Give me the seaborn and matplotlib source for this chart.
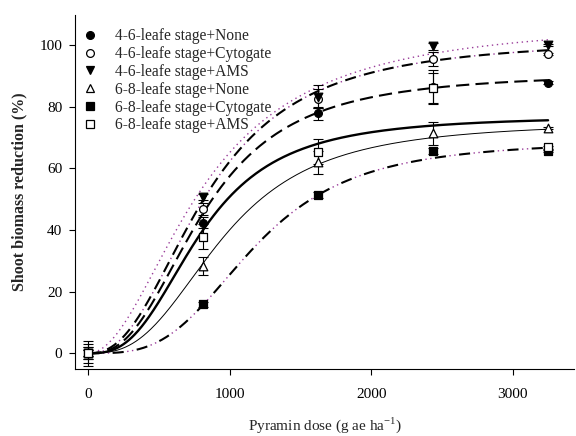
import numpy as np
import pandas as pd
import matplotlib
matplotlib.use("Agg")
import matplotlib.pyplot as plt
from matplotlib.lines import Line2D
import seaborn as sns

# ---------------- data ----------------
dose = [0, 812.5, 1625, 2437.5, 3250]
series_labels = [
    "4-6-leafe stage+None",
    "4-6-leafe stage+Cytogate",
    "4-6-leafe stage+AMS",
    "6-8-leafe stage+None",
    "6-8-leafe stage+Cytogate",
    "6-8-leafe stage+AMS",
]
y_46_none = [0, 42.4, 77.8, 86.3, 87.8]
y_46_cyto = [0, 46.8, 82.6, 95.4, 97.0]
y_46_ams = [0, 50.8, 83.2, 99.5, 100.0]
y_68_none = [0, 28.3, 61.9, 71.4, 73.0]
y_68_cyto = [0, 15.9, 51.3, 65.7, 65.6]
y_68_ams = [0, 37.8, 65.4, 86.0, 66.8]

e_46_none = [2.0, 1.8, 2.0, 5.5, 0.4]
e_46_cyto = [3.0, 2.0, 3.0, 2.2, 0.4]
e_46_ams = [1.0, 1.0, 3.8, 1.0, 0.4]
e_68_none = [2.0, 3.0, 3.7, 3.7, 0.4]
e_68_cyto = [1.0, 0.8, 1.0, 1.0, 0.4]
e_68_ams = [4.0, 4.0, 4.0, 5.0, 0.4]

# fitted log-logistic curve parameters (top, ED50, slope)
fit_top = [91, 102, 108, 75, 69, 77]
fit_ed50 = [813, 830, 812, 953, 1176, 790]
fit_slope = [2.6, 2.4, 2.0, 2.8, 3.3, 2.8]

xticks = [0, 1000, 2000, 3000]
yticks = [0, 20, 40, 60, 80, 100]

# ---------------- style ----------------
sns.set_style("ticks")
plt.rcParams["font.family"] = ["Liberation Serif", "DejaVu Serif"]
plt.rcParams["mathtext.fontset"] = "custom"
plt.rcParams["mathtext.rm"] = "Liberation Serif"
plt.rcParams["lines.scale_dashes"] = False

fig = plt.figure(figsize=(5.76, 4.36), dpi=100)
ax = fig.add_axes([0.130, 0.1537, 0.867, 0.8119])

ys = [y_46_none, y_46_cyto, y_46_ams, y_68_none, y_68_cyto, y_68_ams]
es = [e_46_none, e_46_cyto, e_46_ams, e_68_none, e_68_cyto, e_68_ams]
markers = ["o", "o", "v", "^", "s", "s"]
mfaces = ["black", "white", "black", "white", "black", "white"]
msizes = [5.6, 5.6, 6.2, 6.2, 5.4, 5.4]

purple = "#9a3c9a"

# curves
xg = np.linspace(1, 3250, 500)
def curve(i):
    return fit_top[i] / (1.0 + (fit_ed50[i] / xg) ** fit_slope[i])

# 4-6 None: long dashes
sns.lineplot(x=xg, y=curve(0), ax=ax, color="black", lw=1.5,
             linestyle=(0, (9.5, 4.5)), zorder=2)
# 4-6 Cytogate: dash-dot (black dashes, purple dots)
sns.lineplot(x=xg, y=curve(1), ax=ax, color="black", lw=1.5,
             linestyle=(0, (8, 6)), zorder=2)
sns.lineplot(x=xg, y=curve(1), ax=ax, color=purple, lw=1.0,
             linestyle=(3.5, (1, 13)), zorder=2)
# 4-6 AMS: purple dotted
sns.lineplot(x=xg, y=curve(2), ax=ax, color=purple, lw=1.0,
             linestyle=(0, (1, 2.6)), zorder=2)
# 6-8 None: thin solid
sns.lineplot(x=xg, y=curve(3), ax=ax, color="black", lw=0.7, zorder=2)
# 6-8 Cytogate: dash-dot-dot
sns.lineplot(x=xg, y=curve(4), ax=ax, color="black", lw=1.5,
             linestyle=(0, (8, 9.5)), zorder=2)
sns.lineplot(x=xg, y=curve(4), ax=ax, color=purple, lw=1.0,
             linestyle=(7, (1, 2.5, 1, 13)), zorder=2)
# 6-8 AMS: thick solid
sns.lineplot(x=xg, y=curve(5), ax=ax, color="black", lw=1.7, zorder=2)

# points with error bars
for i in range(6):
    ax.errorbar(dose, ys[i], yerr=es[i], fmt="none", ecolor="black",
                elinewidth=0.8, capsize=3.3, capthick=0.8, zorder=3)
for i in range(6):
    sns.scatterplot(x=dose, y=ys[i], ax=ax, marker=markers[i],
                    s=msizes[i] ** 2, color=mfaces[i], edgecolor="black",
                    linewidth=0.9, zorder=4 + i)

ax.set_xlim(-94, 3435)
ax.set_ylim(-5.1, 109.7)
ax.set_xticks(xticks)
ax.set_yticks(yticks)
ax.tick_params(axis="both", direction="out", length=4, width=0.8,
               labelsize=11, colors="black")
ax.tick_params(axis="x", pad=10)
ax.tick_params(axis="y", pad=5)
for s in ["top", "right"]:
    ax.spines[s].set_visible(False)
for s in ["left", "bottom"]:
    ax.spines[s].set_linewidth(0.8)
    ax.spines[s].set_color("black")

ax.set_xlabel("Pyramin dose (g ae ha$^{-1}$)", fontsize=11, labelpad=10)
ax.set_ylabel("Shoot biomass reduction (%)", fontsize=11.5,
              fontweight="bold", labelpad=9)

handles = [Line2D([], [], marker=markers[i], ls="none", markersize=msizes[i],
                  markerfacecolor=mfaces[i], markeredgecolor="black",
                  markeredgewidth=0.9) for i in range(6)]
ax.legend(handles, series_labels, loc="upper left", bbox_to_anchor=(0.0, 0.985),
          frameon=False, fontsize=11.2, handlelength=1.0, handletextpad=1.1,
          labelspacing=0.12, borderaxespad=0.3, borderpad=0.2)

fig.savefig("out.png", dpi=100)
